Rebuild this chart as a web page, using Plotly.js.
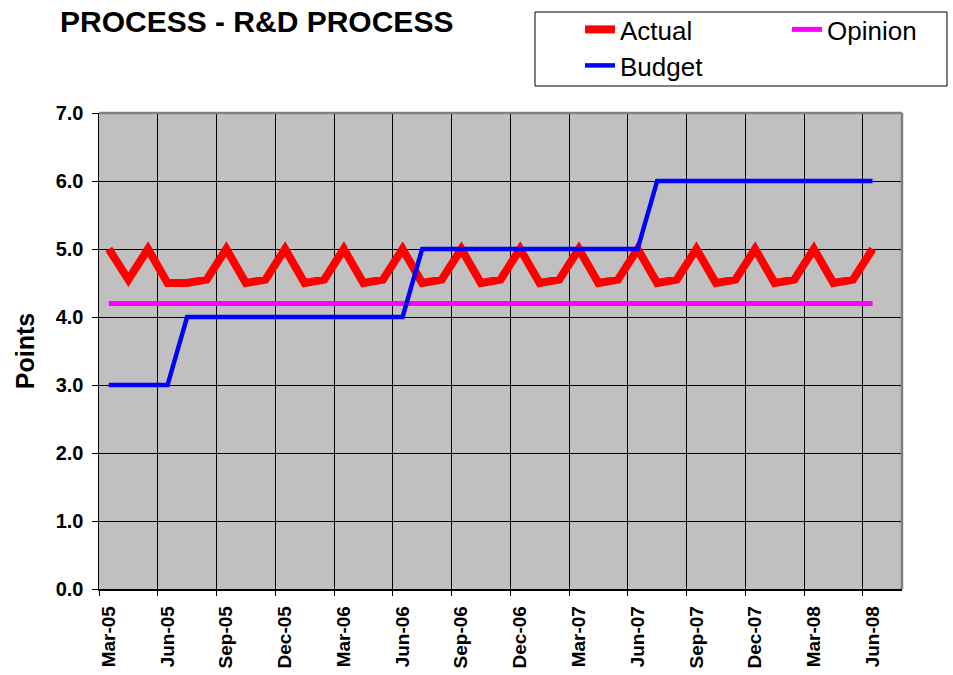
<!DOCTYPE html>
<html>
<head>
<meta charset="utf-8">
<script src="https://cdn.plot.ly/plotly-3.0.1.min.js"></script>
<style>
  html, body { margin: 0; padding: 0; background: #ffffff; }
  #chart { width: 953px; height: 675px; }
</style>
</head>
<body>
<div id="chart"></div>
<script>
// ---- data ----
const months = [
  "Mar-05","Apr-05","May-05","Jun-05","Jul-05","Aug-05","Sep-05","Oct-05","Nov-05","Dec-05",
  "Jan-06","Feb-06","Mar-06","Apr-06","May-06","Jun-06","Jul-06","Aug-06","Sep-06","Oct-06",
  "Nov-06","Dec-06","Jan-07","Feb-07","Mar-07","Apr-07","May-07","Jun-07","Jul-07","Aug-07",
  "Sep-07","Oct-07","Nov-07","Dec-07","Jan-08","Feb-08","Mar-08","Apr-08","May-08","Jun-08"
];
const actual = [
  5.0, 4.55, 5.0, 4.5, 4.5, 4.55, 5.0, 4.5, 4.55, 5.0,
  4.5, 4.55, 5.0, 4.5, 4.55, 5.0, 4.5, 4.55, 5.0, 4.5,
  4.55, 5.0, 4.5, 4.55, 5.0, 4.5, 4.55, 5.0, 4.5, 4.55,
  5.0, 4.5, 4.55, 5.0, 4.5, 4.55, 5.0, 4.5, 4.55, 5.0
];
const opinion = [
  4.2, 4.2, 4.2, 4.2, 4.2, 4.2, 4.2, 4.2, 4.2, 4.2,
  4.2, 4.2, 4.2, 4.2, 4.2, 4.2, 4.2, 4.2, 4.2, 4.2,
  4.2, 4.2, 4.2, 4.2, 4.2, 4.2, 4.2, 4.2, 4.2, 4.2,
  4.2, 4.2, 4.2, 4.2, 4.2, 4.2, 4.2, 4.2, 4.2, 4.2
];
const budget = [
  3, 3, 3, 3, 4, 4, 4, 4, 4, 4,
  4, 4, 4, 4, 4, 4, 5, 5, 5, 5,
  5, 5, 5, 5, 5, 5, 5, 5, 6, 6,
  6, 6, 6, 6, 6, 6, 6, 6, 6, 6
];
const tickLabels = [
  "Mar-05","Jun-05","Sep-05","Dec-05","Mar-06","Jun-06","Sep-06",
  "Dec-06","Mar-07","Jun-07","Sep-07","Dec-07","Mar-08","Jun-08"
];
const yTicks = [0, 1, 2, 3, 4, 5, 6, 7];

// ---- chart ----
const FONT = "'Liberation Sans', Arial, Helvetica, sans-serif";
const W = 953, H = 675;
const M = { l: 99, r: 51, t: 113, b: 86 };
const PW = W - M.l - M.r, PH = H - M.t - M.b;
const nSlots = months.length + 1; // chart reserves one extra empty category slot
const boundaryVals = tickLabels.map(l => months.indexOf(l) - 0.5);

const traces = [
  { name: "Actual", x: months, y: actual, type: "scatter", mode: "lines",
    line: { color: "#FF0000", width: 8 }, xaxis: "x", yaxis: "y", legend: "legend" },
  { name: "Opinion", x: months, y: opinion, type: "scatter", mode: "lines",
    line: { color: "#FF00FF", width: 5 }, xaxis: "x", yaxis: "y", legend: "legend" },
  { name: "Budget", x: months, y: budget, type: "scatter", mode: "lines",
    line: { color: "#0000FF", width: 4.5 }, xaxis: "x", yaxis: "y", legend: "legend2" },
  // invisible helper so the boundary-grid axis gets drawn
  { name: "grid", x: [boundaryVals[0]], y: [null], type: "scatter", mode: "lines",
    showlegend: false, hoverinfo: "skip", xaxis: "x2", yaxis: "y" }
];

const legendCommon = {
  orientation: "h",
  xref: "container", yref: "container",
  xanchor: "left", yanchor: "top",
  bgcolor: "rgba(0,0,0,0)", borderwidth: 0,
  font: { family: FONT, size: 26, color: "#000000" },
  entrywidth: 162, entrywidthmode: "pixels",
  traceorder: "normal"
};

const layout = {
  width: W, height: H,
  paper_bgcolor: "#ffffff",
  plot_bgcolor: "#C0C0C0",
  margin: M,
  showlegend: true,
  font: { family: FONT, color: "#000000" },
  title: {
    text: "PROCESS - R&D PROCESS",
    font: { family: FONT, size: 30, weight: "bold", color: "#000000" },
    x: 60 / W, xanchor: "left", xref: "container",
    y: 1 - 21 / H, yanchor: "middle", yref: "container"
  },
  legend: Object.assign({}, legendCommon, { x: 580 / W, y: 1 - 6 / H }),
  legend2: Object.assign({}, legendCommon, { x: 580 / W, y: 1 - 42 / H }),
  xaxis: {
    type: "category",
    categoryorder: "array", categoryarray: months,
    range: [-0.5, nSlots - 0.5],
    tickmode: "array", tickvals: tickLabels, ticktext: tickLabels,
    tickangle: -90,
    tickfont: { family: FONT, size: 19, weight: "bold", color: "#000000" },
    ticks: "", ticklabelstandoff: 8,
    showgrid: false, zeroline: false,
    showline: true, linecolor: "#000000", linewidth: 1.5,
    fixedrange: true
  },
  xaxis2: {
    overlaying: "x", anchor: "y",
    type: "linear",
    range: [-0.5, nSlots - 0.5],
    tickmode: "array", tickvals: boundaryVals,
    showticklabels: false,
    ticks: "outside", ticklen: 6, tickcolor: "#000000", tickwidth: 1,
    showgrid: true, gridcolor: "#000000", gridwidth: 1,
    zeroline: false, showline: false, side: "bottom"
  },
  yaxis: {
    range: [0, 7],
    tickmode: "array", tickvals: yTicks,
    tickformat: ".1f",
    tickfont: { family: FONT, size: 20, weight: "bold", color: "#000000" },
    ticks: "outside", ticklen: 6, tickcolor: "#000000",
    ticklabelstandoff: 4,
    showgrid: true, gridcolor: "#000000", gridwidth: 1,
    zeroline: false,
    showline: true, linecolor: "#000000", linewidth: 1.5,
    title: { text: "Points", standoff: 14,
             font: { family: FONT, size: 25, weight: "bold", color: "#000000" } }
  },
  shapes: [
    // legend frame
    { type: "rect", xref: "paper", yref: "paper",
      x0: (535 - M.l) / PW, x1: (947 - M.l) / PW,
      y0: (H - M.b - 86) / PH, y1: (H - M.b - 12) / PH,
      line: { color: "#000000", width: 1 }, fillcolor: "#ffffff", layer: "below" },
    // plot-area frame (top and right)
    { type: "line", xref: "paper", yref: "paper", x0: 0, x1: 1, y0: 1, y1: 1,
      line: { color: "#808080", width: 2.5 }, layer: "above" },
    { type: "line", xref: "paper", yref: "paper", x0: 1, x1: 1, y0: 0, y1: 1,
      line: { color: "#808080", width: 2.5 }, layer: "above" }
  ]
};

Plotly.newPlot("chart", traces, layout, { displayModeBar: false, staticPlot: true });
</script>
</body>
</html>
